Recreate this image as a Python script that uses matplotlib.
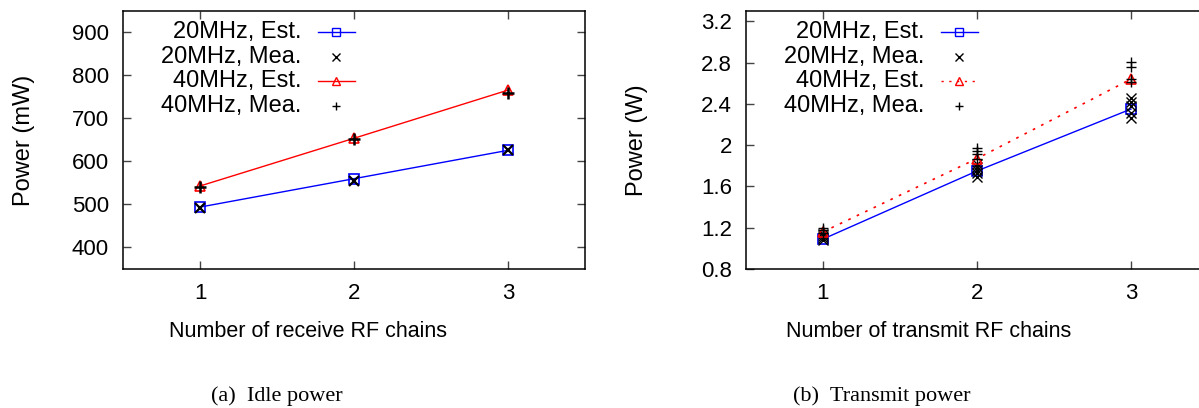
#!/usr/bin/env python3
"""Idle and transmit power vs. number of RF chains (estimated vs. measured)."""

import matplotlib

matplotlib.use("Agg")
import matplotlib.pyplot as plt
from matplotlib.lines import Line2D

plt.rcParams["font.family"] = ["Liberation Sans", "DejaVu Sans"]

# --- data -------------------------------------------------------------------
chains = [1, 2, 3]

# (a) idle power, mW
idle_20_est = [494, 560, 626]
idle_20_mea = [491, 555, 626]
idle_40_est = [543, 654, 766]
idle_40_mea = [540, 652, 760]

# (b) transmit power, W
tx_20_est = [1.09, 1.75, 2.35]
tx_40_est = [1.16, 1.87, 2.64]
tx_20_mea_x = [1, 1, 1, 1, 2, 2, 2, 2, 2, 3, 3, 3, 3, 3]
tx_20_mea = [1.08, 1.10, 1.12, 1.14, 1.69, 1.73, 1.76, 1.79, 1.82,
             2.26, 2.31, 2.38, 2.42, 2.46]
tx_40_mea_x = [1, 1, 1, 2, 2, 2, 2, 3, 3, 3, 3]
tx_40_mea = [1.15, 1.18, 1.20, 1.87, 1.91, 1.94, 1.97,
             2.61, 2.64, 2.76, 2.81]

legend_labels = ["20MHz, Est.", "20MHz, Mea.", "40MHz, Est.", "40MHz, Mea."]

TICK_FS = 16
LABEL_FS = 17
XLABEL_FS = 15.5
LEGEND_FS = 17
CAPTION_FS = 16
RED_DASH = (0, (1.6, 4.0))

fig = plt.figure(figsize=(11.99, 4.08), dpi=100)
ax_a = fig.add_axes([123 / 1199, 1 - 269 / 408, 462 / 1199, 258 / 408])
ax_b = fig.add_axes([746 / 1199, 1 - 269 / 408, 462 / 1199, 258 / 408])


def style_axes(ax):
    ax.set_xlim(0.5, 3.5)
    ax.set_xticks(chains)
    ax.tick_params(direction="in", length=5.8, width=1.0, color="#444444",
                   top=True, right=True, labelsize=TICK_FS, pad=10)
    for sp in ax.spines.values():
        sp.set_linewidth(1.1)
        sp.set_color("black")


def draw_legend(ax, red_ls):
    # gnuplot-style key: right-aligned text followed by the sample
    ys = [0.919, 0.822, 0.729, 0.632]
    samples = [
        dict(color="blue", ls="-", marker="s", mfc="none", mec="blue"),
        dict(color="black", ls="none", marker="x", mfc="none", mec="black"),
        dict(color="red", ls=red_ls, marker="^", mfc="none", mec="red"),
        dict(color="black", ls="none", marker="+", mfc="none", mec="black"),
    ]
    for y, label, kw in zip(ys, legend_labels, samples):
        ax.text(0.387, y, label, transform=ax.transAxes, ha="right",
                va="center", fontsize=LEGEND_FS)
        ax.add_line(Line2D([0.422, 0.502], [y, y], transform=ax.transAxes,
                           lw=1.0, color=kw["color"], ls=kw["ls"]))
        ax.add_line(Line2D([0.462], [y], transform=ax.transAxes, ls="none",
                           marker=kw["marker"], ms=6, mfc="none",
                           mec=kw["mec"], mew=1.0))


# --- (a) idle power ---------------------------------------------------------
ax_a.plot(chains, idle_20_est, color="blue", lw=1.0, marker="s", ms=6.5,
          mfc="none", mec="blue", mew=1.2)
ax_a.plot(chains, idle_20_mea, ls="none", marker="x", ms=7, color="black",
          mew=1.6)
ax_a.plot(chains, idle_40_est, color="red", lw=1.0, marker="^", ms=6.5,
          mfc="none", mec="red", mew=1.2)
ax_a.plot(chains, idle_40_mea, ls="none", marker="+", ms=8, color="black",
          mew=1.8)
style_axes(ax_a)
ax_a.set_ylim(350, 950)
ax_a.set_yticks([400, 500, 600, 700, 800, 900])
draw_legend(ax_a, "-")
ax_a.set_ylabel("Power (mW)", fontsize=LABEL_FS)
ax_a.yaxis.set_label_coords(-0.19, 0.5)
ax_a.set_xlabel("Number of receive RF chains", fontsize=XLABEL_FS)
ax_a.xaxis.set_label_coords(0.40, -0.20)

# --- (b) transmit power -----------------------------------------------------
ax_b.plot(chains, tx_20_est, color="blue", lw=1.0, marker="s", ms=6.5,
          mfc="none", mec="blue", mew=1.2)
ax_b.plot(tx_20_mea_x, tx_20_mea, ls="none", marker="x", ms=6.5,
          color="black", mew=1.0)
ax_b.plot(chains, tx_40_est, color="red", lw=1.2, ls=RED_DASH, marker="^",
          ms=6.5, mfc="none", mec="red", mew=1.2)
ax_b.plot(tx_40_mea_x, tx_40_mea, ls="none", marker="+", ms=7,
          color="black", mew=1.0)
style_axes(ax_b)
ax_b.set_ylim(0.8, 3.3)
ax_b.set_yticks([0.8, 1.2, 1.6, 2.0, 2.4, 2.8, 3.2])
ax_b.set_yticklabels(["0.8", "1.2", "1.6", "2", "2.4", "2.8", "3.2"])
draw_legend(ax_b, RED_DASH)
ax_b.set_ylabel("Power (W)", fontsize=LABEL_FS)
ax_b.yaxis.set_label_coords(-0.212, 0.5)
ax_b.set_xlabel("Number of transmit RF chains", fontsize=XLABEL_FS)
ax_b.xaxis.set_label_coords(0.396, -0.20)

# sub-figure captions
fig.text(277 / 1199, 1 - 396 / 408, "(a)  Idle power", ha="center",
         va="center", fontsize=CAPTION_FS, family=["Liberation Serif"])
fig.text(882 / 1199, 1 - 396 / 408, "(b)  Transmit power", ha="center",
         va="center", fontsize=CAPTION_FS, family=["Liberation Serif"])

fig.savefig("out.png", dpi=100)
